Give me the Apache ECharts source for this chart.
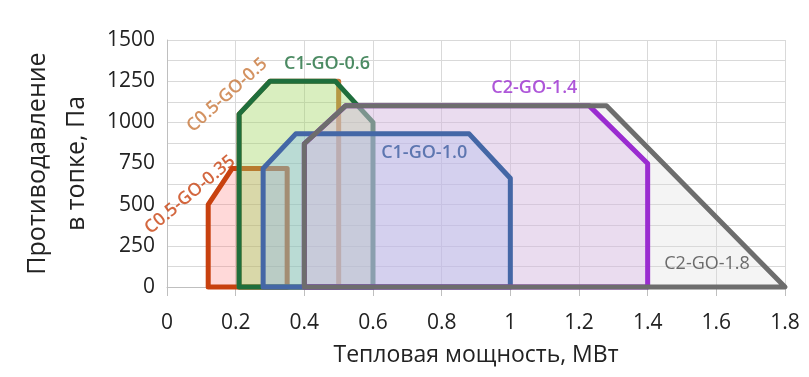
<!DOCTYPE html>
<html>
<head>
<meta charset="utf-8">
<script src="https://cdn.jsdelivr.net/npm/echarts@6/dist/echarts.min.js"></script>
<style>
  html, body { margin: 0; padding: 0; background: #fff; }
  #chart { width: 809px; height: 377px; }
</style>
</head>
<body>
<div id="chart"></div>
<script>
// контуры областей работы: [мощность, МВт ; противодавление, Па]
const go035 = [[0.12, 0], [0.12, 500], [0.19, 720], [0.35, 720], [0.35, 0]];
const go05 = [[0.21, 0], [0.21, 1050], [0.3, 1250], [0.5, 1250], [0.5, 0]];
const go06 = [[0.21, 0], [0.21, 1050], [0.3, 1250], [0.49, 1250], [0.6, 1000], [0.6, 0]];
const go10 = [[0.28, 0], [0.28, 720], [0.375, 930], [0.88, 930], [1.0, 660], [1.0, 0]];
const go14 = [[0.4, 0], [0.4, 870], [0.52, 1100], [1.23, 1100], [1.4, 750], [1.4, 0]];
const go18 = [[0.4, 0], [0.4, 870], [0.52, 1100], [1.28, 1100], [1.8, 0]];

const shapeNames = ["C0.5-GO-0.35", "C0.5-GO-0.5", "C1-GO-0.6", "C1-GO-1.0", "C2-GO-1.4", "C2-GO-1.8"];
const shapes = [go035, go05, go06, go10, go14, go18];

// подписи: позиция центра и угол
const labelPos = [[0.067, 560], [0.175, 1165], [0.466, 1355], [0.749, 815], [1.07, 1210], [1.573, 143]];
const labelRotate = [40, 42, 0, 0, 0, 0];

const lineColors = ["#c8410f", "#c8773a", "#1f6e3c", "#4467a6", "#9a2cd0", "#6d6d6d"];
const labelColors = ["#c8410f", "#c8773a", "#1f6e3c", "#3f5fa0", "#9a2cd0", "#4a4a4a"];
const fillColors = [
  "rgba(255,120,120,0.28)",
  "rgba(240,200,150,0.08)",
  "rgba(150,215,90,0.35)",
  "rgba(120,180,255,0.33)",
  "rgba(205,140,230,0.30)",
  "rgba(220,220,220,0.30)",
];
const labelWeights = [600, 600, 600, 600, 600, 400];

// контуры 0-2 рисуются вместе с заливкой, остальные поверх всех заливок
const lowOutlines = [0, 1, 2];
const topOutlines = [3, 4, 5];

const chartDom = document.getElementById("chart");
const myChart = echarts.init(chartDom);

function polySeries(i, withFill, withStroke, z) {
  const pts = shapes[i];
  return {
    name: shapeNames[i],
    type: "custom",
    data: pts,
    clip: false,
    z: z,
    renderItem: function (params, api) {
      if (params.dataIndex !== 0) return null;
      return {
        type: "polygon",
        shape: { points: pts.map((p) => api.coord(p)) },
        style: {
          fill: withFill ? fillColors[i] : "none",
          stroke: withStroke ? lineColors[i] : "none",
          lineWidth: 5,
          lineJoin: "round",
        },
      };
    },
  };
}

const series = [];
shapes.forEach((pts, i) => {
  series.push(polySeries(i, true, false, 2));
  if (lowOutlines.indexOf(i) >= 0) series.push(polySeries(i, false, true, 2));
});
topOutlines.forEach((i) => series.push(polySeries(i, false, true, 3)));

series.push({
  type: "scatter",
  symbolSize: 0,
  silent: true,
  z: 10,
  data: labelPos.map((p, i) => ({
    value: p,
    label: {
      show: true,
      position: "inside",
      formatter: shapeNames[i],
      color: labelColors[i],
      rotate: labelRotate[i],
      fontWeight: labelWeights[i],
      fontSize: 18,
      fontFamily: "Open Sans",
    },
  })),
});

const option = {
  animation: false,
  grid: { left: 167, right: 24, top: 40, bottom: 90, outerBoundsMode: "none" },
  xAxis: {
    type: "value",
    min: 0,
    max: 1.8,
    interval: 0.2,
    name: "Тепловая мощность, МВт",
    nameLocation: "middle",
    nameGap: 57,
    nameTextStyle: { fontSize: 23, color: "#222", fontFamily: "Open Sans" },
    axisLine: { show: true, lineStyle: { color: "#bfbfbf" } },
    axisTick: { show: true, length: 9, lineStyle: { color: "#bfbfbf" } },
    axisLabel: { fontSize: 21, color: "#222", fontFamily: "Open Sans", margin: 26 },
    splitLine: { show: true, lineStyle: { color: "#d9d9d9" } },
  },
  yAxis: {
    type: "value",
    min: 0,
    max: 1500,
    interval: 250,
    name: "Противодавление\nв топке, Па",
    nameLocation: "middle",
    nameRotate: 90,
    nameGap: 65,
    nameTextStyle: { fontSize: 25, lineHeight: 39, color: "#222", fontFamily: "Open Sans" },
    axisLine: { show: true, lineStyle: { color: "#bfbfbf" } },
    axisTick: { show: false },
    axisLabel: {
      fontSize: 21,
      color: "#222",
      fontFamily: "Open Sans",
      margin: 12,
      formatter: (v) => String(v),
    },
    splitLine: { show: true, lineStyle: { color: "#d9d9d9" } },
    minorTick: { show: false, splitNumber: 2 },
    minorSplitLine: { show: true, lineStyle: { color: "#d9d9d9" } },
  },
  series: series,
};

option && myChart.setOption(option);
</script>
</body>
</html>
